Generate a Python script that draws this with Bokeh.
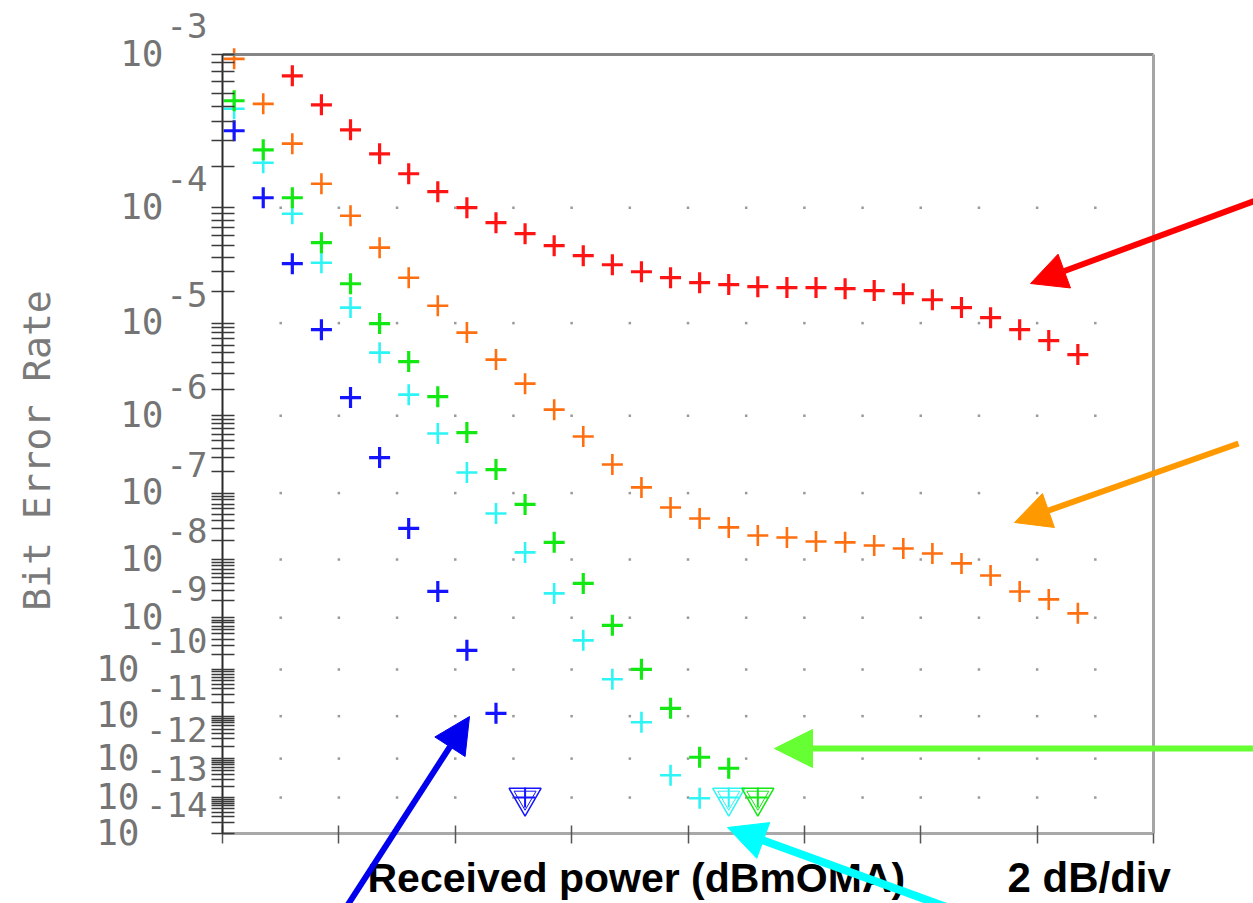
import numpy as np
from bokeh.plotting import figure
from bokeh.models import (Range1d, FixedTicker, Label, Arrow, NormalHead,
                          CustomJSTickFormatter, LinearAxis)
from bokeh.embed import file_html
from bokeh.resources import INLINE

# ---------------- data (received power in dBm, bit error rate) ----------------
x_red = [-19.0, -18.5, -18.0, -17.5, -17.0, -16.5, -16.0, -15.5, -15.0, -14.5,
         -14.0, -13.5, -13.0, -12.5, -12.0, -11.5, -11.0, -10.5, -10.0, -9.5,
         -9.0, -8.5, -8.0, -7.5, -7.0, -6.5, -6.0, -5.5]
ber_red = [7.58e-4, 5.09e-4, 3.54e-4, 2.45e-4, 1.78e-4, 1.32e-4, 1.00e-4, 7.65e-5, 6.25e-5, 4.99e-5,
           4.11e-5, 3.44e-5, 2.99e-5, 2.65e-5, 2.39e-5, 2.30e-5, 2.20e-5, 2.16e-5, 2.16e-5, 2.11e-5,
           2.03e-5, 1.90e-5, 1.67e-5, 1.41e-5, 1.13e-5, 8.63e-6, 6.70e-6, 4.81e-6]

x_orange = [-20.0, -19.5, -19.0, -18.5, -18.0, -17.5, -17.0, -16.5, -16.0, -15.5,
            -15.0, -14.5, -14.0, -13.5, -13.0, -12.5, -12.0, -11.5, -11.0, -10.5,
            -10.0, -9.5, -9.0, -8.5, -8.0, -7.5, -7.0, -6.5, -6.0, -5.5]
ber_orange = [9.46e-4, 5.16e-4, 2.87e-4, 1.51e-4, 8.68e-5, 4.80e-5, 2.65e-5, 1.47e-5, 8.06e-6, 4.26e-6,
              2.34e-6, 1.18e-6, 5.59e-7, 2.45e-7, 1.20e-7, 6.24e-8, 4.31e-8, 3.17e-8, 2.39e-8, 2.23e-8,
              1.93e-8, 1.87e-8, 1.67e-8, 1.50e-8, 1.25e-8, 8.65e-9, 5.48e-9, 2.93e-9, 2.13e-9, 1.20e-9]

x_green = [-20.0, -19.5, -19.0, -18.5, -18.0, -17.5, -17.0, -16.5, -16.0, -15.5,
           -15.0, -14.5, -14.0, -13.5, -13.0, -12.5, -12.0, -11.5]
ber_green = [5.39e-4, 2.61e-4, 1.19e-4, 5.28e-5, 2.34e-5, 9.89e-6, 4.06e-6, 1.67e-6, 6.26e-7, 2.10e-7,
             6.90e-8, 1.87e-8, 4.02e-9, 7.23e-10, 1.01e-10, 1.50e-11, 1.08e-12, 5.75e-13]

x_cyan = [-20.0, -19.5, -19.0, -18.5, -18.0, -17.5, -17.0, -16.5, -16.0, -15.5,
          -15.0, -14.5, -14.0, -13.5, -13.0, -12.5, -12.0]
ber_cyan = [4.81e-4, 2.13e-4, 8.99e-5, 3.58e-5, 1.41e-5, 5.04e-6, 1.76e-6, 6.08e-7, 1.92e-7, 5.11e-8,
            1.30e-8, 2.71e-9, 3.77e-10, 6.28e-11, 7.26e-12, 3.82e-13, 9.6e-14]

x_blue = [-20.0, -19.5, -19.0, -18.5, -18.0, -17.5, -17.0, -16.5, -16.0, -15.5]
ber_blue = [3.49e-4, 1.19e-4, 3.51e-5, 8.63e-6, 1.63e-6, 3.02e-7, 3.06e-8, 2.93e-9, 2.42e-10, 1.16e-11]

# error-free points (upper bound markers)
x_nofail = [-15.0, -11.5, -11.0]
ber_nofail = [1e-13, 1e-13, 1e-13]
nofail_colors = ["#1414ff", "#2ef5f5", "#12e812"]

decades = [3, 4, 5, 6, 7, 8, 9, 10, 11, 12, 13, 14]
x_label_text = "Received power (dBmOMA)"
div_text = "2 dB/div"
y_label_text = "Bit Error Rate"


# ---------------- BER scale transform ----------------
def T(ber):
    b = np.asarray(ber, dtype=float)
    return -np.log10(-np.log10(b) - 0.4)


X0, X1 = -20.2, -4.2                       # plot box in dBm
Y_TOP, Y_BOT = float(T(1e-3)), float(T(1e-14))

W, H = 1253, 903
L, TOP, FW, FH = 222, 54, 931, 779          # plot box on the page
kx = FW / (X1 - X0)
ky = FH / (Y_TOP - Y_BOT)


def px_x(px):
    return X0 + (px - L) / kx


def px_y(py):
    return Y_TOP - (py - TOP) / ky


def y_to_px(y):
    return TOP + (Y_TOP - y) * ky


p = figure(width=W, height=H, x_range=Range1d(px_x(0), px_x(W)), y_range=Range1d(px_y(H), px_y(0)),
           output_backend="svg", toolbar_location=None, min_border=0)
p.title.visible = False
p.grid.visible = False
p.background_fill_color = "white"
p.border_fill_color = "white"
p.outline_line_color = None

# y axis: BER scale
major = [float(T(10.0 ** -n)) for n in decades]
minor = [float(T(m * 10.0 ** -n)) for n in decades[1:] for m in range(2, 10)]
yax = p.yaxis[0]
yax.fixed_location = X0
yax.bounds = (Y_BOT, Y_TOP)
yax.ticker = FixedTicker(ticks=major, minor_ticks=minor)
yax.formatter = CustomJSTickFormatter(code="return ''")
yax.axis_line_color = "#2a2a2a"
yax.axis_line_width = 2
yax.major_tick_in = 12
yax.major_tick_out = 11
yax.minor_tick_in = 12
yax.minor_tick_out = 11
yax.major_tick_line_color = "#3a3a3a"
yax.minor_tick_line_color = "#3a3a3a"
yax.major_tick_line_width = 1.4
yax.minor_tick_line_width = 1.4

# x axis: 2 dB/div
xax = p.xaxis[0]
xax.fixed_location = Y_BOT
xax.bounds = (X0, X1)
xax.ticker = FixedTicker(ticks=[X0 + 2 * k for k in range(9)])
xax.formatter = CustomJSTickFormatter(code="return ''")
xax.axis_line_color = "#a8a8a8"
xax.axis_line_width = 3
xax.major_tick_in = 8
xax.major_tick_out = 10
xax.major_tick_line_color = "#555555"
xax.major_tick_line_width = 1.5
xax.minor_tick_line_color = None

# box border: top and right axes without ticks
for side, loc, bnds, col in (("above", Y_TOP, (X0, X1), "#858585"), ("right", X1, (Y_BOT, Y_TOP), "#a5a5a5")):
    ax = LinearAxis(fixed_location=loc, bounds=bnds, ticker=FixedTicker(ticks=[]),
                    formatter=CustomJSTickFormatter(code="return ''"),
                    axis_line_color=col, axis_line_width=3,
                    major_tick_line_color=None, minor_tick_line_color=None)
    p.add_layout(ax, side)

# dotted grid: dots at 1 dB columns and decade rows
gx, gy = np.meshgrid([X0 + k for k in range(1, 16)], [float(T(10.0 ** -n)) for n in decades[1:-1]])
p.scatter(gx.ravel(), gy.ravel(), marker="square", size=2.5, color="#9a9a9a", line_width=0)

# data series
series = [
    (x_orange, ber_orange, "#ff6f0f", 2.6),
    (x_red, ber_red, "#ff1414", 3.2),
    (x_cyan, ber_cyan, "#2ef5f5", 2.6),
    (x_green, ber_green, "#12e812", 3.2),
    (x_blue, ber_blue, "#1414ff", 3.2),
]
for xs, bs, c, lw in series:
    p.scatter(xs, T(bs), marker="cross", size=21, line_color=c, line_width=lw)

ynf = T(ber_nofail)
p.scatter(x_nofail, ynf, marker="inverted_triangle", size=32, fill_color=None,
          line_color=nofail_colors, line_width=1.5)
p.scatter(x_nofail, ynf, marker="inverted_triangle", size=22, fill_color=None,
          line_color=nofail_colors, line_width=1)
p.scatter(x_nofail, ynf, marker="cross", size=20, line_color=nofail_colors, line_width=2)

# tick labels (10 with exponent)
tick_font = "DejaVu Sans Mono"
tick_col = "#747474"
for n in decades:
    yt = float(T(10.0 ** -n))
    tpx = y_to_px(yt)
    base_right = 163 if n < 10 else 139
    p.add_layout(Label(x=px_x(base_right), y=px_y(tpx - 2), text="10", text_align="right",
                       text_baseline="middle", text_font=tick_font, text_font_size="36px",
                       text_color=tick_col))
    p.add_layout(Label(x=px_x(207), y=px_y(tpx - 29), text="-%d" % n, text_align="right",
                       text_baseline="middle", text_font=tick_font, text_font_size="34px",
                       text_color=tick_col))

# y axis title
p.add_layout(Label(x=px_x(36), y=px_y(450), text=y_label_text, angle=np.pi / 2,
                   text_align="center", text_baseline="middle", text_font=tick_font,
                   text_font_size="38px", text_color="#7a7a7a"))

# x axis title + scale note
p.add_layout(Label(x=px_x(367), y=px_y(877), text=x_label_text, text_align="left",
                   text_baseline="middle", text_font="Liberation Sans",
                   text_font_size="41px", text_font_style="bold", text_color="black"))
p.add_layout(Label(x=px_x(1007), y=px_y(877), text=div_text, text_align="left",
                   text_baseline="middle", text_font="Liberation Sans",
                   text_font_size="42px", text_font_style="bold", text_color="black"))

# annotation arrows
arrows = [
    ((1258, 199), (1030, 283), "#ff0000", 6, 36),
    ((1238, 443), (1014, 522), "#ff9900", 6, 36),
    ((1260, 748), (774, 748), "#66ff33", 6, 38),
    ((343, 911), (469, 716), "#0000ee", 6, 36),
    ((950, 908), (727, 827), "#00ffff", 8, 38),
]
for (sx, sy), (ex, ey), c, lw, hs in arrows:
    p.add_layout(Arrow(end=NormalHead(size=hs, fill_color=c, line_color=c, line_width=1),
                       x_start=px_x(sx), y_start=px_y(sy), x_end=px_x(ex), y_end=px_y(ey),
                       line_color=c, line_width=lw))

open("out.html", "w").write(file_html(p, INLINE))
